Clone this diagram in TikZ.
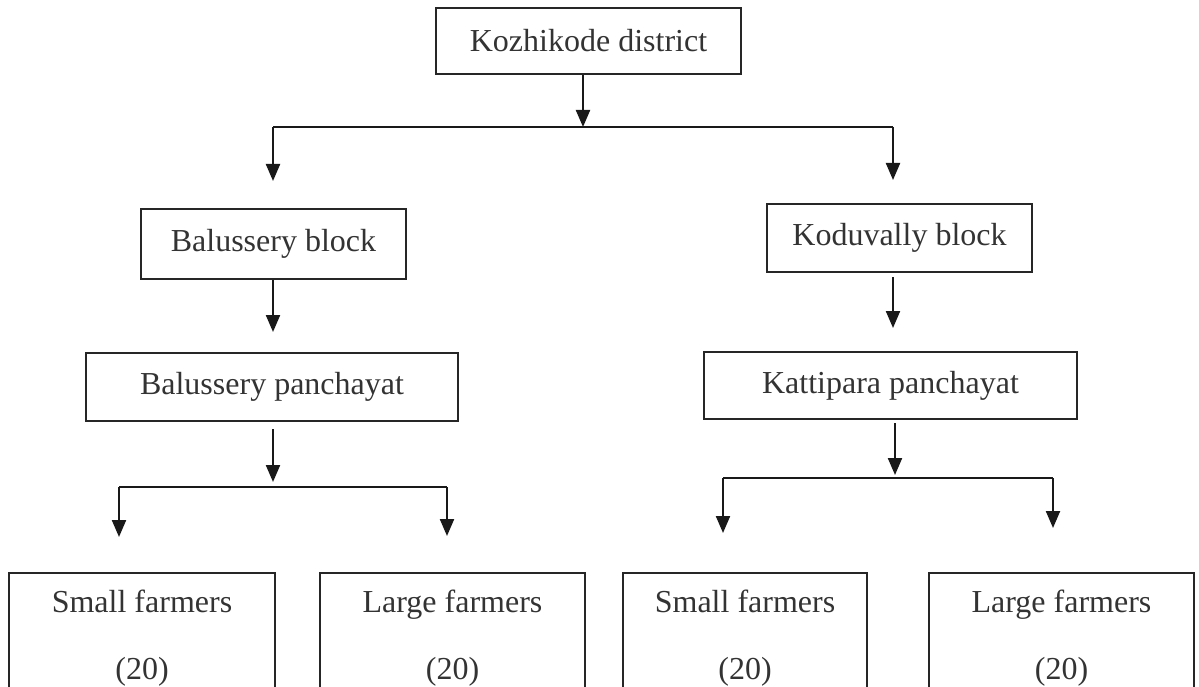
\documentclass[tikz,border=0pt]{standalone}
\usepackage{fontspec}
\setmainfont{Liberation Serif}
\usetikzlibrary{arrows.meta}
\begin{document}
\begin{tikzpicture}[x=1pt,y=-1pt,
  box/.style={draw=black!85, line width=1.4pt, inner sep=0pt, text=black!80,
    font=\fontsize{32}{67}\selectfont, align=center},
  conn/.style={draw=black!90, line width=2.2pt},
  arr/.style={conn, -{Triangle[length=17pt,width=14pt]}}]
\useasboundingbox (0,0) rectangle (1199,687);
% boxes
\node[box, minimum width=305, minimum height=66] (kd) at (588.5,41) {Kozhikode district};
\node[box, minimum width=265, minimum height=70] (bb) at (273.5,244) {Balussery block};
\node[box, minimum width=265, minimum height=68] (kb) at (899.5,238) {Koduvally block};
\node[box, minimum width=372, minimum height=68] (bp) at (272,387) {Balussery panchayat};
\node[box, minimum width=373, minimum height=67] (kp) at (890.5,385.5) {Kattipara panchayat};
\node[box, minimum width=266, minimum height=130] (sf1) at (142,638) {Small farmers\\(20)};
\node[box, minimum width=265, minimum height=130] (lf1) at (452.5,638) {Large farmers\\(20)};
\node[box, minimum width=244, minimum height=130] (sf2) at (745,638) {Small farmers\\(20)};
\node[box, minimum width=265, minimum height=130] (lf2) at (1061.5,638) {Large farmers\\(20)};
% junction coordinates
\coordinate (j0) at (583,127);
\coordinate (j0l) at (273,127);
\coordinate (j0r) at (893,127);
\coordinate (t0l) at (273,181);
\coordinate (t0r) at (893,180);
\coordinate (tb) at (273,332);
\coordinate (tk) at (893,328);
\coordinate (s1) at (273,429);
\coordinate (j1) at (273,487);
\coordinate (h1) at (273,482);
\coordinate (j1l) at (119,487);
\coordinate (j1r) at (447,487);
\coordinate (t1l) at (119,537);
\coordinate (t1r) at (447,536);
\coordinate (s2) at (895,423);
\coordinate (j2) at (895,478);
\coordinate (h2) at (895,475);
\coordinate (j2l) at (723,478);
\coordinate (j2r) at (1053,478);
\coordinate (t2l) at (723,533);
\coordinate (t2r) at (1053,528);
\coordinate (s3) at (893,277);
% connectors
\draw[arr] (kd.south -| j0) -- (j0);
\draw[conn] (j0l) -- (j0r);
\draw[arr] (j0l) -- (t0l);
\draw[arr] (j0r) -- (t0r);
\draw[arr] (bb.south -| tb) -- (tb);
\draw[arr] (s3) -- (tk);
\draw[arr] (s1) -- (h1);
\draw[conn] (j1l) -- (j1r);
\draw[arr] (j1l) -- (t1l);
\draw[arr] (j1r) -- (t1r);
\draw[arr] (s2) -- (h2);
\draw[conn] (j2l) -- (j2r);
\draw[arr] (j2l) -- (t2l);
\draw[arr] (j2r) -- (t2r);
\end{tikzpicture}
\end{document}
